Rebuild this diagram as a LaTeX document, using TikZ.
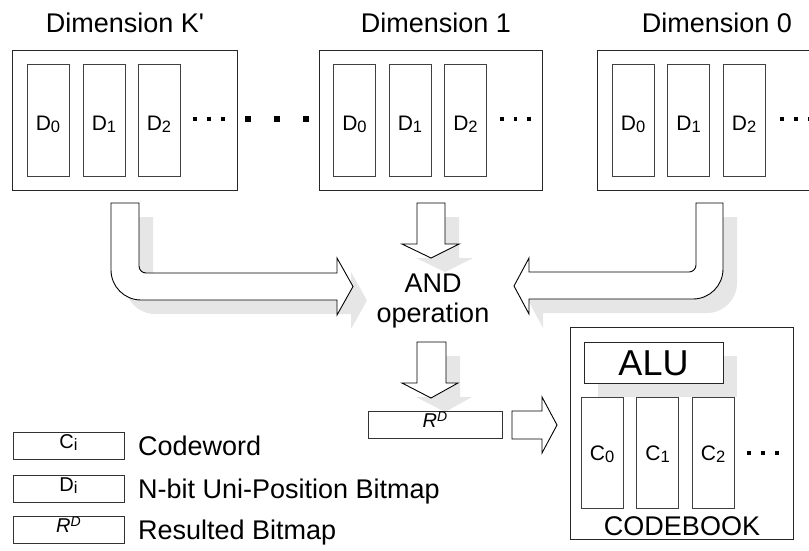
\documentclass[tikz,border=0pt]{standalone}
\usepackage{fontspec}
\setmainfont{Liberation Sans}
\newfontfamily\plainsans{Liberation Sans}
\definecolor{shade}{RGB}{230,230,230}
\newcommand\lsub[1]{\raisebox{-2pt}{\fontsize{16.5}{16.5}\selectfont #1}}
\newcommand\lsup[1]{\raisebox{6pt}{\fontsize{14}{14}\selectfont\itshape #1}}
\begin{document}
\begin{tikzpicture}[x=1pt,y=-1pt,
  bigtext/.style={font=\fontsize{27}{32}\selectfont, inner sep=0pt},
  outerbox/.style={draw=black!85, line width=1pt, fill=white, inner sep=0pt},
  cell/.style={draw=black!75, line width=1pt, fill=white, inner sep=0pt,
    minimum width=42pt, minimum height=112pt, font=\fontsize{21}{24}\selectfont,
    text height=20pt, text depth=0pt},
  ccell/.style={cell, minimum height=111pt, text height=16pt},
  legbox/.style={draw=black!80, line width=1pt, fill=white, inner sep=0pt,
    minimum width=111pt, minimum height=27pt, font=\fontsize{20}{24}\selectfont,
    text height=14pt, text depth=8pt},
  sdot/.style={fill=black, inner sep=0pt, minimum size=3.2pt},
  bdot/.style={fill=black, inner sep=0pt, minimum size=5.5pt},
  shadowpath/.style={fill=shade, draw=none},
  blockarrow/.style={draw=black, line width=0.9pt, fill=white, line join=miter}
]
\useasboundingbox (0,0) rectangle (809,550);
\clip (0,0) rectangle (809,550);

% titles
\node[bigtext, anchor=base] (tK) at (125,32) {Dimension K{\plainsans '}};
\node[bigtext, anchor=base] (t1) at (436,32) {Dimension 1};
\node[bigtext, anchor=base] (t0) at (717,32) {Dimension 0};

% dimension boxes
\node[outerbox, minimum width=225pt, minimum height=140pt] (dK) at (124.5,120) {};
\node[outerbox, minimum width=223pt, minimum height=140pt] (d1) at (430.5,120) {};
\node[outerbox, minimum width=223pt, minimum height=140pt] (d0) at (708.5,120) {};

\node[cell] (kD0) at (48,120) {D\lsub{0}};
\node[cell] (kD1) at (104,120) {D\lsub{1}};
\node[cell] (kD2) at (159,120) {D\lsub{2}};
\node[cell] (oD0) at (354.5,120) {D\lsub{0}};
\node[cell] (oD1) at (410,120) {D\lsub{1}};
\node[cell] (oD2) at (465.5,120) {D\lsub{2}};
\node[cell] (zD0) at (633,120) {D\lsub{0}};
\node[cell] (zD1) at (688.5,120) {D\lsub{1}};
\node[cell] (zD2) at (744,120) {D\lsub{2}};

% dots
\node[sdot] (kd1) at (195,119) {};
\node[sdot] (kd2) at (209,119) {};
\node[sdot] (kd3) at (223,119) {};
\node[bdot] (bd1) at (248,119) {};
\node[bdot] (bd2) at (277,119) {};
\node[bdot] (bd3) at (306,119) {};
\node[sdot] (od1) at (502,119) {};
\node[sdot] (od2) at (515.5,119) {};
\node[sdot] (od3) at (529,119) {};
\node[sdot] (zd1) at (782,119) {};
\node[sdot] (zd2) at (796,119) {};
\node[sdot] (zd3) at (810,119) {};

% shadows of block arrows
\begin{scope}[shift={(14,14)}]
\path[shadowpath] (111,203) -- (139,203) -- (139,266) .. controls (139,269.9) and (142.1,273) .. (146,273)
  -- (337,273) -- (337,258) -- (353,286.5) -- (337,315) -- (337,300) -- (141,300)
  .. controls (124.4,300) and (111,286.6) .. (111,270) -- cycle;
\path[shadowpath] (723,203) -- (696,203) -- (696,265) .. controls (696,268.9) and (692.9,272) .. (689,272)
  -- (529,272) -- (529,258) -- (514,286) -- (529,314) -- (529,299) -- (693,299)
  .. controls (709.6,299) and (723,285.6) .. (723,269) -- cycle;
\path[shadowpath] (417,203) -- (445,203) -- (445,244) -- (459,244) -- (431,258) -- (402,244) -- (417,244) -- cycle;
\path[shadowpath] (417,342) -- (446,342) -- (446,383) -- (458,383) -- (431,398) -- (402,383) -- (417,383) -- cycle;
\end{scope}

% block arrows
\path[blockarrow] (111,203) -- (139,203) -- (139,266) .. controls (139,269.9) and (142.1,273) .. (146,273)
  -- (337,273) -- (337,258) -- (353,286.5) -- (337,315) -- (337,300) -- (141,300)
  .. controls (124.4,300) and (111,286.6) .. (111,270) -- cycle;
\path[blockarrow] (723,203) -- (696,203) -- (696,265) .. controls (696,268.9) and (692.9,272) .. (689,272)
  -- (529,272) -- (529,258) -- (514,286) -- (529,314) -- (529,299) -- (693,299)
  .. controls (709.6,299) and (723,285.6) .. (723,269) -- cycle;
\path[blockarrow] (417,203) -- (445,203) -- (445,244) -- (459,244) -- (431,258) -- (402,244) -- (417,244) -- cycle;
\path[blockarrow] (417,342) -- (446,342) -- (446,383) -- (458,383) -- (431,398) -- (402,383) -- (417,383) -- cycle;
\path[blockarrow] (512,411) -- (542,411) -- (542,397) -- (557,425) -- (542,453) -- (542,439) -- (512,439) -- cycle;

% AND operation
\node[bigtext, anchor=base] (and) at (433,292) {AND};
\node[bigtext, anchor=base] (op) at (433,322) {operation};

% R^D box
\node[legbox, minimum width=134pt, text height=15pt, text depth=9pt] (rd) at (435,424.5) {\itshape R\lsup{D}};

% codebook
\node[outerbox, minimum width=223pt, minimum height=212pt] (cb) at (681.5,433) {};
\path[shadowpath] (598,356) rectangle (737,397);
\node[outerbox, minimum width=139pt, minimum height=41pt, font=\fontsize{36}{40}\selectfont,
  text height=26pt, text depth=0pt] (alu) at (653.5,362.5) {ALU};
\node[ccell] (c0) at (602,452.5) {C\lsub{0}};
\node[ccell] (c1) at (657.5,452.5) {C\lsub{1}};
\node[ccell] (c2) at (713,452.5) {C\lsub{2}};
\node[sdot] (cd1) at (749,453) {};
\node[sdot] (cd2) at (763,453) {};
\node[sdot] (cd3) at (777,453) {};
\node[bigtext, anchor=base] (cbl) at (682,535) {CODEBOOK};

% legend
\node[legbox] (lc) at (68.5,445.5) {C\lsub{i}};
\node[legbox] (ld) at (68.5,488.5) {D\lsub{i}};
\node[legbox] (lr) at (68.5,529.5) {\itshape R\lsup{D}};
\node[bigtext, anchor=base west] (lct) at (138,455) {Codeword};
\node[bigtext, anchor=base west] (ldt) at (138,498) {N-bit Uni-Position Bitmap};
\node[bigtext, anchor=base west] (lrt) at (138,539) {Resulted Bitmap};
\end{tikzpicture}
\end{document}
